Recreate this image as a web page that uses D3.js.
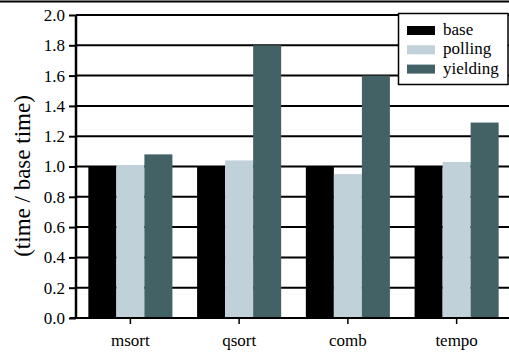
<!DOCTYPE html>
<html>
<head>
<meta charset="utf-8">
<script src="https://cdn.jsdelivr.net/npm/d3@7"></script>
<style>
  @font-face { font-family: "ChartSerif"; src: local("Liberation Serif"), local("LiberationSerif"), local("LiberationSerif-Regular"), local("Times New Roman"); }
</style>
</head>
<body style="margin:0">
<svg id="chart" width="509" height="354"></svg>
<script>
// Benchmarks and their normalized run times (time / base time)
const benchmarks = ["msort", "qsort", "comb", "tempo"];
const seriesNames = ["base", "polling", "yielding"];
const baseValues = [1.00, 1.00, 1.00, 1.00];
const pollingValues = [1.01, 1.04, 0.95, 1.03];
const yieldingValues = [1.08, 1.80, 1.60, 1.29];
const yTicks = [0.0, 0.2, 0.4, 0.6, 0.8, 1.0, 1.2, 1.4, 1.6, 1.8, 2.0];
const seriesColors = ["#000000", "#c1d1d9", "#426266"];

const seriesValues = [baseValues, pollingValues, yieldingValues];
const FONT = "'Liberation Serif', ChartSerif, 'Times New Roman', 'DejaVu Serif', serif";

const svg = d3.select("#chart");
const W = 509;
const plotLeft = 76, plotRight = 511, plotTop = 15, plotBottom = 318;

const x = d3.scaleBand().domain(benchmarks).range([plotLeft, plotRight])
  .paddingInner(0.227).paddingOuter(0.1135);
const xs = d3.scaleBand().domain(seriesNames).range([0, x.bandwidth()]);
const y = d3.scaleLinear().domain([0, 2]).range([plotBottom, plotTop]);

function serif(sel, size) {
  sel.attr("font-family", FONT).attr("font-size", size)
    .style("font-family", FONT).style("font-size", size + "px");
}

// top rule
svg.append("line").attr("x1", 0).attr("x2", W).attr("y1", 1.5).attr("y2", 1.5)
  .attr("stroke", "#000").attr("stroke-width", 2);

// horizontal gridlines
svg.append("g").selectAll("line").data(yTicks.filter(d => d > 0)).join("line")
  .attr("x1", plotLeft).attr("x2", W)
  .attr("y1", d => y(d)).attr("y2", d => y(d))
  .attr("stroke", "#000").attr("stroke-width", 2);

// bars
const groups = svg.append("g").selectAll("g").data(benchmarks).join("g")
  .attr("transform", d => `translate(${x(d)},0)`);
groups.selectAll("rect")
  .data((d, i) => seriesNames.map((s, j) => ({ s, v: seriesValues[j][i], c: seriesColors[j] })))
  .join("rect")
  .attr("x", d => xs(d.s))
  .attr("width", xs.bandwidth())
  .attr("y", d => y(d.v))
  .attr("height", d => y(0) - y(d.v))
  .attr("fill", d => d.c);

// y axis
const yAxis = svg.append("g").attr("transform", `translate(${plotLeft},0)`)
  .call(d3.axisLeft(y).tickValues(yTicks).tickFormat(d3.format(".1f")).tickSize(7).tickPadding(4));
yAxis.attr("font-family", null);
yAxis.select(".domain").attr("stroke-width", 2.5).attr("d", `M0,${plotTop}V${plotBottom + 1}`);
yAxis.selectAll(".tick line").attr("stroke-width", 2);
yAxis.selectAll("text").attr("fill", "#000").call(serif, 17);

// x axis
const xAxis = svg.append("g").attr("transform", `translate(0,${plotBottom})`)
  .call(d3.axisBottom(x).tickSize(6).tickPadding(10));
xAxis.attr("font-family", null);
xAxis.select(".domain").attr("stroke-width", 2).attr("d", `M${plotLeft - 6},0H${W}`);
xAxis.selectAll(".tick line").attr("stroke-width", 1.5);
xAxis.selectAll("text").attr("fill", "#000").call(serif, 17);

// y axis title
svg.append("text")
  .attr("transform", "translate(30,176) rotate(-90)")
  .attr("text-anchor", "middle")
  .call(serif, 23)
  .text("(time / base time)");

// legend
const lg = svg.append("g");
lg.append("rect").attr("x", 398.5).attr("y", 13.5).attr("width", 109.5).attr("height", 71)
  .attr("fill", "#fff").attr("stroke", "#000").attr("stroke-width", 1.5);
const items = lg.selectAll("g").data(seriesNames).join("g")
  .attr("transform", (d, i) => `translate(407,${26 + i * 19.3})`);
items.append("rect").attr("width", 28).attr("height", 9)
  .attr("fill", (d, i) => seriesColors[i]);
items.append("text").attr("x", 36).attr("y", 9)
  .call(serif, 17).text(d => d);
</script>
</body>
</html>
